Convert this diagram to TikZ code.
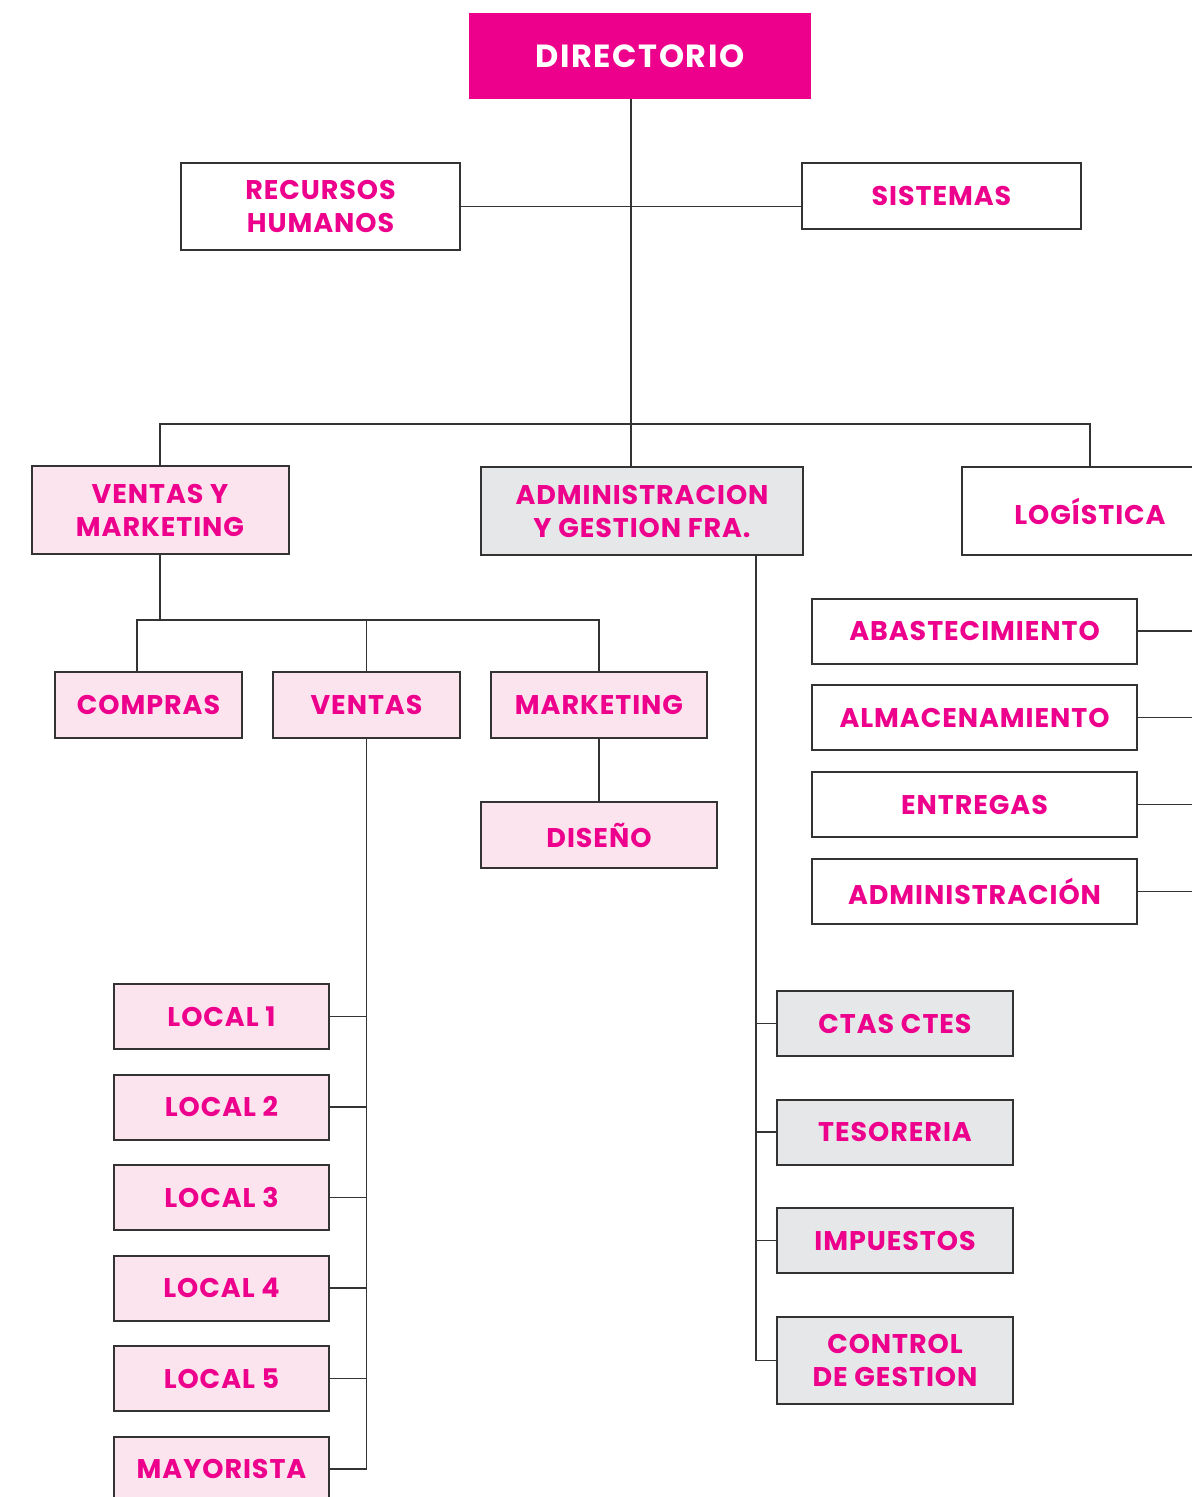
\documentclass[tikz,border=0pt]{standalone}
\usepackage{fontspec}
\setmainfont{Poppins}
\usepackage{tikz}
\usetikzlibrary{positioning,calc}

\definecolor{magenta}{HTML}{EC008C}
\definecolor{rosa}{HTML}{FCE4EF}
\definecolor{gris}{HTML}{E6E7E8}
\definecolor{linea}{HTML}{333333}

\begin{document}
\begin{tikzpicture}[
  x=0.5pt, y=-0.5pt,
  box/.style={draw=linea, line width=1pt, inner sep=0pt, align=center,
              text=magenta, font=\fontsize{13.5}{16.5}\selectfont\bfseries\addfontfeatures{LetterSpace=3.5}},
  whitebox/.style={box, fill=white},
  pinkbox/.style={box, fill=rosa},
  graybox/.style={box, fill=gris},
  topbox/.style={fill=magenta, text=white, inner sep=0pt,
                 font=\fontsize{16}{18}\selectfont\bfseries\addfontfeatures{LetterSpace=5}},
  conn/.style={draw=linea, line width=0.8pt}]

\clip (0,0) rectangle (1192,1497);

% ================= top level ==============================================
\node[topbox, minimum width=171pt, minimum height=43pt] (dir) at (640,56) {DIRECTORIO};
\node[whitebox, minimum width=139.5pt, minimum height=43.5pt] (rrhh) at (320.5,206.5)
  {RECURSOS\\HUMANOS};
\node[whitebox, minimum width=139.5pt, minimum height=33pt] (sis) at (941.5,196) {SISTEMAS};

\coordinate (trunk) at (631,424);
\draw[conn] (dir.south -| trunk) -- (trunk);
\draw[conn] (rrhh.east) -- (rrhh.east -| sis.west);

% ================= areas ==================================================
\node[pinkbox, minimum width=128.5pt, minimum height=44pt] (vym) at (160,510)
  {VENTAS Y\\MARKETING};
\node[graybox, minimum width=161pt, minimum height=44pt] (adm) at (642,511)
  {ADMINISTRACION\\Y GESTION FRA.};
\node[whitebox, minimum width=128pt, minimum height=44pt] (log) at (1090,511) {LOGÍSTICA};

\draw[conn] (vym.north) -- (vym.north |- trunk) -- (log.north |- trunk) -- (log.north);
\draw[conn] (trunk) -- (adm.north -| trunk);

% ================= ventas y marketing =====================================
\node[pinkbox, minimum width=93.5pt, minimum height=33pt] (compras) at (148.5,705) {COMPRAS};
\node[pinkbox, minimum width=93.5pt, minimum height=33pt] (ventas) at (366.5,705) {VENTAS};
\node[pinkbox, minimum width=108pt, minimum height=33pt] (mkt) at (599,705) {MARKETING};
\node[pinkbox, minimum width=118pt, minimum height=33pt] (dis) at (599,835) {DISEÑO};

\coordinate (vmbus) at (137,620);
\draw[conn] (vym.south) -- (vym.south |- vmbus);
\draw[conn] (vmbus |- compras.north) -- (vmbus) -- (mkt.north |- vmbus) -- (mkt.north);
\draw[conn] (ventas.north) -- (ventas.north |- vmbus);
\draw[conn] (mkt.south) -- (dis.north);

% locales, all hanging from ventas
\foreach \n/\y/\lab in {l1/1016.5/LOCAL 1, l2/1107/LOCAL 2, l3/1197.5/LOCAL 3,
                        l4/1288/LOCAL 4, l5/1378.5/LOCAL 5, may/1469/MAYORISTA}
  {\node[pinkbox, minimum width=107.5pt, minimum height=32.5pt] (\n) at (221.5,\y) {\lab};}
\draw[conn] (ventas.south) |- (may.east);
\foreach \n in {l1,l2,l3,l4,l5}
  {\draw[conn] (\n.east) -- (\n.east -| ventas.south);}

% ================= administracion =========================================
\foreach \n/\y/\lab in {ctas/1023.5/CTAS CTES, teso/1132/TESORERIA, imp/1240.5/IMPUESTOS}
  {\node[graybox, minimum width=118pt, minimum height=32.5pt] (\n) at (895,\y) {\lab};}
\node[graybox, minimum width=118pt, minimum height=43.5pt] (cg) at (895,1360.5)
  {CONTROL\\DE GESTION};

\coordinate (admbus) at (756,1360.5);
\draw[conn] (adm.south -| admbus) -- (admbus) -- (cg.west);
\foreach \n in {ctas,teso,imp}
  {\draw[conn] (\n.east -| admbus) -- (\n.west);}

% ================= logistica ==============================================
\foreach \n/\y/\lab in {abas/631/ABASTECIMIENTO, alm/717.5/ALMACENAMIENTO,
                        ent/804.5/ENTREGAS, admlog/891.5/ADMINISTRACIÓN}
  {\node[whitebox, minimum width=162.5pt, minimum height=32.5pt] (\n) at (974.5,\y) {\lab};}

\coordinate (logbus) at (1200,0);
\foreach \n in {abas,alm,ent,admlog}
  {\draw[conn] (\n.east) -- (\n.east -| logbus);}

\end{tikzpicture}
\end{document}
